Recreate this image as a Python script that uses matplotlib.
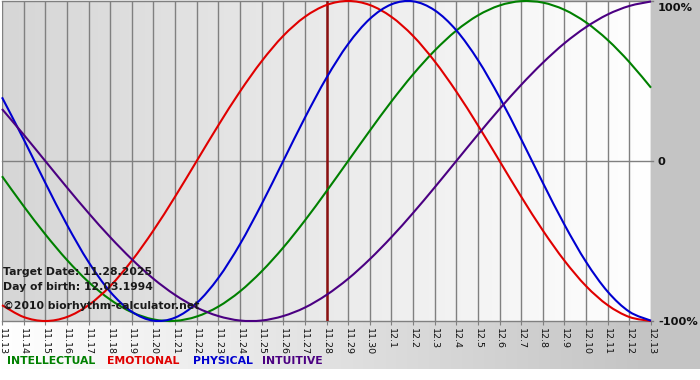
import numpy as np
import matplotlib
matplotlib.use("Agg")
import matplotlib.pyplot as plt
from matplotlib.colors import LinearSegmentedColormap
from matplotlib.path import Path
from matplotlib.patches import PathPatch

# days shown on the x axis
dates = ["11.13", "11.14", "11.15", "11.16", "11.17", "11.18", "11.19", "11.20",
         "11.21", "11.22", "11.23", "11.24", "11.25", "11.26", "11.27", "11.28",
         "11.29", "11.30", "12.1", "12.2", "12.3", "12.4", "12.5", "12.6",
         "12.7", "12.8", "12.9", "12.10", "12.11", "12.12", "12.13"]
target_idx = 15  # 11.28

# cycle values per day (-1 .. 1)
intellectual = [-0.095, -0.282, -0.458, -0.618, -0.756, -0.866, -0.945, -0.990,
                -0.999, -0.972, -0.910, -0.815, -0.690, -0.541, -0.372, -0.189,
                0.000, 0.189, 0.372, 0.541, 0.690, 0.815, 0.910, 0.972,
                0.999, 0.990, 0.945, 0.866, 0.756, 0.618, 0.458]
emotional = [-0.901, -0.975, -1.000, -0.975, -0.901, -0.782, -0.623, -0.434,
             -0.223, 0.000, 0.223, 0.434, 0.623, 0.782, 0.901, 0.975,
             1.000, 0.975, 0.901, 0.782, 0.623, 0.434, 0.223, 0.000,
             -0.223, -0.434, -0.623, -0.782, -0.901, -0.975, -1.000]
physical = [0.398, 0.136, -0.136, -0.398, -0.631, -0.817, -0.942, -0.998,
            -0.979, -0.888, -0.731, -0.520, -0.270, 0.000, 0.270, 0.520,
            0.731, 0.888, 0.979, 0.998, 0.942, 0.817, 0.631, 0.398,
            0.136, -0.136, -0.398, -0.631, -0.817, -0.942, -0.998]
intuitive = [0.325, 0.165, 0.000, -0.165, -0.325, -0.476, -0.614, -0.736,
             -0.837, -0.916, -0.969, -0.997, -0.997, -0.969, -0.916, -0.837,
             -0.736, -0.614, -0.476, -0.325, -0.165, 0.000, 0.165, 0.325,
             0.476, 0.614, 0.736, 0.837, 0.916, 0.969, 0.997]

series = [("INTELLECTUAL", intellectual, "#008000"),
          ("EMOTIONAL", emotional, "#e00000"),
          ("PHYSICAL", physical, "#0000d0"),
          ("INTUITIVE", intuitive, "#4b0082")]


def smooth_path(xs, ys):
    # smooth line through the points (catmull-rom as bezier segments)
    p = np.column_stack([xs, ys]).astype(float)
    ext = np.vstack([p[0], p, p[-1]])
    verts = [p[0]]
    codes = [Path.MOVETO]
    for i in range(len(p) - 1):
        p0, p1, p2, p3 = ext[i], ext[i + 1], ext[i + 2], ext[i + 3]
        verts += [p1 + (p2 - p0) / 6, p2 - (p3 - p1) / 6, p2]
        codes += [Path.CURVE4] * 3
    return Path(verts, codes)


W, H = 700, 380
fig = plt.figure(figsize=(W / 100, H / 100), dpi=100)

# figure background: white -> gray from left to right
bg = fig.add_axes([0, 0, 1, 1], zorder=0)
grad_bg = LinearSegmentedColormap.from_list("bg", ["#ffffff", "#c4c4c4"])
bg.imshow(np.linspace(0, 1, 256).reshape(1, -1), cmap=grad_bg, aspect="auto",
          extent=(0, 650, 0, 380))
bg.axvspan(650, 700, color="#c4c4c4", lw=0)
bg.axhspan(0, 11, color="#ffffff", lw=0)
bg.set_xlim(0, W)
bg.set_ylim(0, H)
bg.axis("off")

# plot area
left, right, top, bottom = 2, 651, 1, 321
ax = fig.add_axes([left / W, 1 - bottom / H, (right - left) / W, (bottom - top) / H], zorder=1)
x = np.arange(len(dates))
grad_ax = LinearSegmentedColormap.from_list("ax", ["#d6d6d6", "#ffffff"])
ax.imshow(np.linspace(0, 1, 256).reshape(1, -1), cmap=grad_ax, aspect="auto",
          extent=(0, len(dates) - 1, -1, 1), zorder=0)

for xi in x:
    ax.axvline(xi, color="#808080", lw=1.0, zorder=1)
for yv in (1, 0, -1):
    ax.plot([0, len(dates) - 1 + 0.1], [yv, yv], color="#808080", lw=1.0,
            zorder=1, clip_on=False)

ax.axvline(target_idx, color="#8b1010", lw=1.8, zorder=2)

for name, vals, col in series:
    ax.add_patch(PathPatch(smooth_path(x, vals), facecolor="none", edgecolor=col,
                           lw=1.5, zorder=3, clip_on=False))

ax.set_xlim(0, len(dates) - 1)
ax.set_ylim(-1, 1)
ax.set_yticks([])
ax.set_xticks(x)
ax.set_xticklabels(dates, rotation=-90, fontsize=6.8, color="#111111")
ax.tick_params(axis="x", length=3, color="#808080", pad=2)
for s in ax.spines.values():
    s.set_visible(False)

# right side labels (pixel rows from the top of the image)
for yp, lab in ((8, "100%"), (162, "0"), (322, "-100%")):
    fig.text(658 / W, 1 - yp / H, lab, ha="left", va="center", fontsize=8.2,
             fontweight="bold", color="#111111")

# info text
info = [(272, "Target Date: 11.28.2025"), (287, "Day of birth: 12.03.1994"),
        (306, "\u00a92010 biorhythm-calculator.net")]
for yp, t in info:
    fig.text(3 / W, 1 - yp / H, t, ha="left", va="center", fontsize=7.8,
             fontweight="bold", color="#1a1a1a", zorder=5)

# legend
legend_x = [7, 107, 193, 262]
for (name, vals, col), lx in zip(series, legend_x):
    fig.text(lx / W, 1 - 361 / H, name, ha="left", va="center", fontsize=7.8,
             fontweight="bold", color=col)

fig.savefig("out.png", dpi=100)
